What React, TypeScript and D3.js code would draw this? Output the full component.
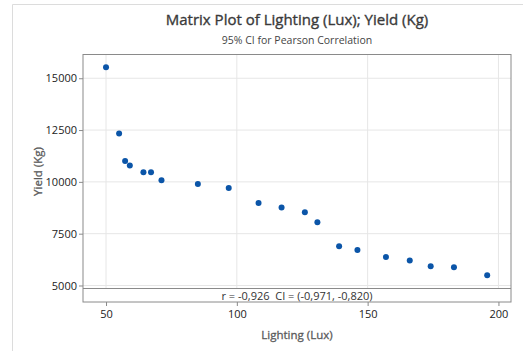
import * as d3 from 'd3';
import { useEffect, useRef } from 'react';

// Lighting (Lux) vs Yield (Kg)
const lux = [50, 55, 57.3, 59.1, 64.3, 67.2, 71.2, 85.1, 96.9, 108.3, 117.1, 126, 130.8, 139.1, 146.1, 157, 166.1, 174.1, 183, 195.7];
const yieldKg = [15530, 12340, 11010, 10790, 10470, 10470, 10080, 9900, 9700, 8980, 8760, 8530, 8050, 6890, 6710, 6370, 6210, 5930, 5880, 5500];
const xTicks = [50, 100, 150, 200];
const yTicks = [5000, 7500, 10000, 12500, 15000];
const title = 'Matrix Plot of Lighting (Lux); Yield (Kg)';
const subtitle = '95% CI for Pearson Correlation';
const corrText = 'r = -0,926  CI = (-0,971, -0,820)';

export default function App() {
  const svgRef = useRef<SVGSVGElement>(null);
  const width = 523;
  const height = 351;
  const marginLeft = 83;
  const marginRight = 12;
  const marginTop = 54.5;
  const plotBottom = 288.5;
  const bandBottom = 302;
  const font = "'Open Sans', 'Noto Sans', sans-serif";

  useEffect(() => {
    const svg = d3.select(svgRef.current);
    svg.selectAll('*').remove();
    svg.attr('width', width).attr('height', height).style('font-family', font);

    const x = d3.scaleLinear().domain([41.2, 204.8]).range([marginLeft, width - marginRight]);
    const y = d3.scaleLinear().domain([4855, 16146]).range([plotBottom, marginTop]);

    // outer window frame
    svg.append('path')
      .attr('d', `M12.5,${height} V4.5 H${width}`)
      .attr('fill', 'none')
      .attr('stroke', '#dcdcdc');

    // gridlines
    svg.append('g')
      .selectAll('line')
      .data(xTicks)
      .join('line')
      .attr('x1', (d) => x(d)).attr('x2', (d) => x(d))
      .attr('y1', marginTop).attr('y2', plotBottom)
      .attr('stroke', '#e6e6e6');
    svg.append('g')
      .selectAll('line')
      .data(yTicks)
      .join('line')
      .attr('x1', marginLeft).attr('x2', width - marginRight)
      .attr('y1', (d) => y(d)).attr('y2', (d) => y(d))
      .attr('stroke', '#e6e6e6');

    // points
    svg.append('g')
      .selectAll('circle')
      .data(lux.map((v, i) => [v, yieldKg[i]]))
      .join('circle')
      .attr('cx', (d) => x(d[0]))
      .attr('cy', (d) => y(d[1]))
      .attr('r', 3)
      .attr('fill', '#0b55a8');

    // correlation band
    svg.append('line')
      .attr('x1', marginLeft).attr('x2', width - marginRight)
      .attr('y1', plotBottom).attr('y2', plotBottom)
      .attr('stroke', '#8a8a8a');
    svg.append('text')
      .attr('x', (marginLeft + width - marginRight) / 2)
      .attr('y', bandBottom - 2.5)
      .attr('text-anchor', 'middle')
      .attr('font-size', 11)
      .attr('fill', '#333')
      .style('white-space', 'pre')
      .text(corrText);

    // frame
    svg.append('rect')
      .attr('x', marginLeft).attr('y', marginTop)
      .attr('width', width - marginRight - marginLeft)
      .attr('height', bandBottom - marginTop)
      .attr('fill', 'none')
      .attr('stroke', '#8a8a8a');

    // axes
    svg.append('g')
      .attr('transform', `translate(0,${bandBottom})`)
      .call(d3.axisBottom(x).tickValues(xTicks).tickSize(4).tickFormat(d3.format('d')))
      .call((g) => g.select('.domain').remove())
      .call((g) => g.selectAll('.tick line').attr('stroke', '#8a8a8a'))
      .call((g) => g.selectAll('.tick text').attr('font-size', 11).attr('fill', '#222').attr('font-family', font).attr('dy', '0.85em'));
    svg.append('g')
      .attr('transform', `translate(${marginLeft},0)`)
      .call(d3.axisLeft(y).tickValues(yTicks).tickSize(4).tickFormat(d3.format('d')))
      .call((g) => g.select('.domain').remove())
      .call((g) => g.selectAll('.tick line').attr('stroke', '#8a8a8a'))
      .call((g) => g.selectAll('.tick text').attr('font-size', 11).attr('fill', '#222').attr('font-family', font).attr('x', -6));

    // titles
    svg.append('text')
      .attr('x', 297).attr('y', 25)
      .attr('text-anchor', 'middle')
      .attr('font-size', 15)
      .attr('fill', '#3a3a3a')
      .attr('stroke', '#3a3a3a')
      .attr('stroke-width', 0.35)
      .text(title);
    svg.append('text')
      .attr('x', 297).attr('y', 44)
      .attr('text-anchor', 'middle')
      .attr('font-size', 10.5)
      .attr('fill', '#444')
      .text(subtitle);
    svg.append('text')
      .attr('x', 297).attr('y', 339)
      .attr('text-anchor', 'middle')
      .attr('font-size', 11.5)
      .attr('fill', '#5a5a5a')
      .attr('stroke', '#5a5a5a')
      .attr('stroke-width', 0.3)
      .text('Lighting (Lux)');
    svg.append('text')
      .attr('transform', `translate(42,${(marginTop + plotBottom) / 2}) rotate(-90)`)
      .attr('text-anchor', 'middle')
      .attr('font-size', 11.5)
      .attr('fill', '#5a5a5a')
      .attr('stroke', '#5a5a5a')
      .attr('stroke-width', 0.3)
      .text('Yield (Kg)');
  }, []);

  return (
    <div style={{ position: 'fixed', left: 0, top: 0, background: '#fff' }}>
      <svg ref={svgRef}></svg>
    </div>
  );
}
